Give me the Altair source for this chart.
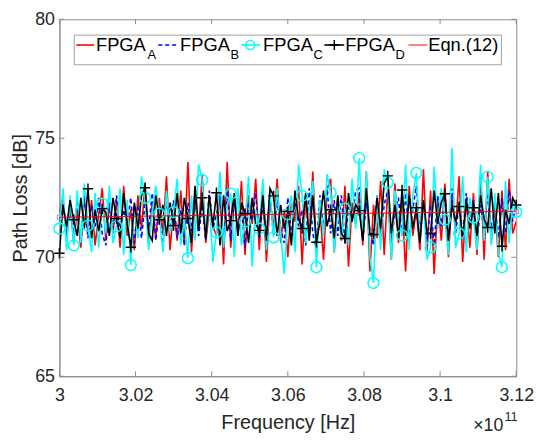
import altair as alt
import numpy as np
import pandas as pd

FONT = "Liberation Sans"

# ---------------- data ----------------
freq = np.linspace(3.0, 3.12, 129)  # frequency grid, x 1e11 Hz

fpga_a = [
    71.9, 72.5, 70.8, 72.3, 70.6, 72.0, 70.4, 72.6, 71.0, 72.4, 70.5, 71.8,
    72.9, 70.7, 72.2, 71.0, 72.4, 70.4, 73.0, 70.9, 72.0, 70.3, 72.6, 71.2,
    73.1, 70.5, 72.3, 70.8, 72.5, 71.0, 73.4, 70.3, 72.1, 70.7, 72.8, 70.5,
    74.0, 70.2, 72.4, 71.1, 73.5, 70.6, 72.0, 71.3, 70.9, 72.7, 69.7, 74.0,
    70.4, 72.5, 71.0, 73.2, 70.1, 72.6, 71.4, 73.3, 70.3, 72.8, 69.8, 72.4,
    71.2, 73.3, 70.6, 72.0, 70.0, 72.3, 71.5, 73.0, 69.7, 72.6, 70.9, 73.6,
    70.4, 72.0, 69.9, 72.8, 73.3, 70.2, 72.5, 70.7, 73.0, 69.6, 72.3, 71.4,
    72.7, 70.5, 73.6, 69.4, 72.2, 70.8, 73.2, 70.1, 72.9, 69.9, 73.1, 70.6,
    72.4, 69.4, 73.0, 70.9, 72.0, 70.3, 73.7, 70.2, 72.8, 69.3, 72.4, 70.7,
    73.1, 70.0, 72.6, 71.2, 73.4, 69.8, 72.5, 70.4, 72.7, 70.1, 73.5, 69.9,
    73.6, 70.6, 72.2, 70.0, 72.8, 70.3, 73.3, 71.0, 71.5,
]

fpga_b = [
    71.5, 72.3, 70.9, 72.0, 71.0, 72.4, 70.6, 72.6, 70.8, 72.2, 71.3, 72.5,
    71.0, 70.5, 72.3, 71.2, 72.6, 70.9, 72.0, 71.4, 72.5, 70.6, 72.2, 70.8,
    72.3, 71.2, 72.7, 70.7, 72.1, 70.4, 72.5, 71.1, 72.4, 70.8, 72.0, 70.5,
    72.3, 71.1, 72.6, 70.9, 72.2, 70.7, 72.8, 71.2, 71.8, 72.6, 70.6, 72.9,
    70.7, 72.5, 71.0, 72.1, 70.4, 72.3, 71.6, 72.7, 70.8, 72.2, 71.0, 72.6,
    70.9, 72.4, 71.2, 70.6, 72.5, 70.8, 72.3, 71.3, 72.0, 70.5, 72.9, 71.0,
    70.3, 72.6, 71.2, 73.0, 71.0, 72.4, 70.9, 72.6, 70.6, 72.1, 71.5, 72.8,
    72.9, 70.7, 72.3, 71.1, 70.5, 72.6, 71.0, 72.2, 72.8, 70.6, 71.9, 72.5,
    70.9, 72.7, 70.8, 72.0, 73.0, 71.0, 72.4, 70.7, 72.2, 70.5, 72.6, 71.3,
    72.6, 70.8, 72.9, 71.0, 72.3, 70.9, 72.7, 71.4, 72.4, 70.6, 72.2, 71.2,
    72.7, 71.1, 72.3, 70.8, 72.5, 71.0, 72.8, 71.5, 72.3,
]

fpga_c = [
    71.2, 72.9, 70.3, 72.6, 70.5, 72.8, 70.6, 73.1, 71.33, 70.2, 72.7, 70.4,
    72.25, 71.0, 73.0, 70.6, 71.3, 72.9, 70.1, 72.4, 69.67, 72.2, 70.8, 73.4,
    72.5, 70.3, 71.9, 73.0, 71.83, 70.2, 72.8, 71.0, 71.9, 73.3, 70.5, 71.6,
    69.96, 72.6, 70.7, 73.9, 73.25, 70.9, 72.4, 69.8, 71.04, 73.6, 70.4, 72.2,
    72.67, 70.0, 72.9, 70.5, 71.5, 73.4, 69.6, 72.0, 71.2, 73.3, 70.3, 72.8,
    70.83, 72.9, 71.0, 69.3, 71.8, 72.6, 70.2, 73.9, 72.58, 70.6, 72.1, 73.2,
    69.58, 72.4, 70.9, 73.5, 72.71, 70.2, 72.3, 70.8, 72.04, 70.5, 73.3, 71.2,
    74.17, 70.8, 73.6, 70.0, 68.92, 72.6, 70.3, 73.7, 73.13, 69.9, 72.8, 71.6,
    70.92, 73.9, 70.3, 72.6, 73.54, 70.6, 72.4, 69.9, 70.42, 73.8, 71.2, 72.9,
    71.58, 70.1, 74.6, 70.4, 71.0, 73.4, 70.2, 72.5, 71.67, 70.3, 73.9, 70.7,
    73.38, 70.5, 72.7, 70.2, 69.58, 73.2, 70.6, 72.4, 71.9,
]

fpga_d = [
    70.17, 72.2, 71.3, 72.4, 71.58, 70.9, 72.5, 71.2, 72.88, 70.8, 72.0, 71.1,
    72.04, 71.9, 70.9, 72.5, 71.63, 70.8, 72.7, 71.4, 70.42, 72.3, 71.2, 72.6,
    72.92, 71.0, 70.7, 72.6, 71.58, 72.2, 70.9, 72.3, 71.33, 72.7, 71.0, 72.5,
    71.63, 70.6, 73.0, 71.2, 72.5, 70.8, 72.6, 71.3, 72.71, 70.5, 72.6, 71.1,
    71.54, 72.7, 70.9, 72.3, 71.83, 70.6, 72.5, 71.4, 71.13, 72.6, 70.7, 72.9,
    72.58, 70.9, 72.2, 71.2, 71.92, 70.5, 72.8, 71.6, 71.21, 72.7, 70.7, 72.6,
    70.63, 71.5, 72.8, 71.3, 72.0, 70.8, 72.6, 71.0, 70.79, 72.7, 71.5, 72.2,
    71.96, 70.7, 72.9, 71.0, 70.96, 72.5, 71.2, 73.1, 73.42, 71.0, 72.2, 70.8,
    72.83, 70.9, 72.6, 71.2, 72.08, 70.6, 72.4, 71.0, 71.0, 72.8, 71.4, 72.3,
    72.67, 70.7, 72.2, 71.5, 72.13, 70.8, 72.4, 71.2, 72.08, 70.9, 72.6, 71.6,
    71.25, 72.9, 71.0, 72.7, 70.46, 72.0, 71.4, 72.5, 72.2,
]

eqn_freq = [3.0, 3.12]
eqn_vals = [71.68, 71.93]

x_ticks = [3.0, 3.02, 3.04, 3.06, 3.08, 3.1, 3.12]
y_ticks = [65, 70, 75, 80]

# ---------------- layout constants ----------------
W, H = 462, 361
FRAME = "#8c8c8c"
TXT = "#262626"

df = pd.concat([
    pd.DataFrame({"f": freq, "v": fpga_a, "s": "A", "i": range(len(freq))}),
    pd.DataFrame({"f": freq, "v": fpga_b, "s": "B", "i": range(len(freq))}),
    pd.DataFrame({"f": freq, "v": fpga_c, "s": "C", "i": range(len(freq))}),
    pd.DataFrame({"f": freq, "v": fpga_d, "s": "D", "i": range(len(freq))}),
])
eqn_df = pd.DataFrame({"f": eqn_freq, "v": eqn_vals})
xt_df = pd.DataFrame({"f": x_ticks})
yt_df = pd.DataFrame({"v": y_ticks})
one = pd.DataFrame({"k": [0]})

X = alt.X("f:Q", scale=alt.Scale(domain=[3.0, 3.12], nice=False, zero=False),
          axis=alt.Axis(values=x_ticks, format=".2~f", title="Frequency [Hz]",
                        ticks=False, grid=False, labelPadding=11, titlePadding=8))
Y = alt.Y("v:Q", scale=alt.Scale(domain=[65, 80], nice=False, zero=False),
          axis=alt.Axis(values=y_ticks, title="Path Loss [dB]", ticks=False,
                        grid=False, labelPadding=5, titlePadding=4))


def series_line(name, color, dash=None):
    kw = dict(color=color, strokeWidth=1.6, clip=True)
    if dash:
        kw["strokeDash"] = dash
    return alt.Chart(df).transform_filter(alt.datum.s == name).mark_line(**kw).encode(x=X, y=Y)


line_a = series_line("A", "#ff0000")
line_b = series_line("B", "#0000ff", [4, 3])
line_c = series_line("C", "#00ffff")
line_d = series_line("D", "#000000")

PLUS = "M-1,0L1,0M0,-1L0,1"
mk_c = alt.Chart(df).transform_filter((alt.datum.s == "C") & (alt.datum.i % 4 == 0)).mark_point(
    shape="circle", filled=False, color="#00ffff", strokeWidth=1.5, size=120, opacity=1
).encode(x=X, y=Y)
mk_d = alt.Chart(df).transform_filter((alt.datum.s == "D") & (alt.datum.i % 4 == 0)).mark_point(
    shape=PLUS, filled=False, color="#000000", strokeWidth=1.5, size=110, opacity=1
).encode(x=X, y=Y)

eqn = alt.Chart(eqn_df).mark_line(color="#ff0000", strokeWidth=1).encode(x=X, y=Y)
eqn_sq = alt.Chart(eqn_df).mark_point(shape="square", filled=False, color="#7fa6d6",
                                       size=20, strokeWidth=1, opacity=1).encode(x=X, y=Y)

# inward ticks (MATLAB style box)
tk = dict(color=FRAME, strokeWidth=1)
t_bot = alt.Chart(xt_df).mark_rule(**tk).encode(x=X, y=alt.value(H), y2=alt.value(H - 5))
t_top = alt.Chart(xt_df).mark_rule(**tk).encode(x=X, y=alt.value(0), y2=alt.value(5))
t_lft = alt.Chart(yt_df).mark_rule(**tk).encode(y=Y, x=alt.value(0), x2=alt.value(5))
t_rgt = alt.Chart(yt_df).mark_rule(**tk).encode(y=Y, x=alt.value(W), x2=alt.value(W - 5))


def txt(s, x, y, size, align="left", color="#000000"):
    return alt.Chart(one).mark_text(text=s, font=FONT, fontSize=size, align=align,
                                    baseline="alphabetic", color=color).encode(
        x=alt.value(x), y=alt.value(y))


def seg(x1, x2, y, color, dash=None, width=1.6):
    kw = dict(color=color, strokeWidth=width)
    if dash:
        kw["strokeDash"] = dash
    return alt.Chart(one).mark_rule(**kw).encode(x=alt.value(x1), x2=alt.value(x2), y=alt.value(y))


LY, TY, SY = 26, 32.5, 40.3
leg_box = alt.Chart(one).mark_rect(fill="white", stroke="#a0a0a0", strokeWidth=1).encode(
    x=alt.value(15), x2=alt.value(447), y=alt.value(16), y2=alt.value(46))
leg = [
    leg_box,
    seg(17, 35, LY, "#ff0000"), txt("FPGA", 37, TY, 18.5), txt("A", 89, SY, 13),
    seg(100, 120, LY, "#0000ff", [4, 3]), txt("FPGA", 122, TY, 18.5), txt("B", 173, SY, 13),
    seg(184, 203, LY, "#00ffff"),
    alt.Chart(one).mark_point(shape="circle", filled=False, color="#00ffff", strokeWidth=1.5,
                              size=80, opacity=1).encode(x=alt.value(193), y=alt.value(LY)),
    txt("FPGA", 206, TY, 18.5), txt("C", 257, SY, 13),
    seg(268, 288, LY, "#000000"),
    alt.Chart(one).mark_point(shape=PLUS, filled=False, color="#000000", strokeWidth=1.5,
                              size=100, opacity=1).encode(x=alt.value(278), y=alt.value(LY)),
    txt("FPGA", 289, TY, 18.5), txt("D", 340, SY, 13),
    seg(353, 372, LY, "#ff0000", width=1), txt("Eqn.(12)", 373, TY, 18.5),
]

exp_txt = [
    txt("\u00d710", 449, 416, 18, align="right", color=TXT),
    txt("11", 450, 406, 13, color=TXT),
]

chart = alt.layer(
    line_a, line_b, line_c, line_d, mk_c, mk_d, eqn, eqn_sq,
    t_bot, t_top, t_lft, t_rgt, *leg, *exp_txt
).properties(
    width=W, height=H,
    background="white",
    autosize=alt.AutoSizeParams(type="none"),
    padding={"left": 52, "top": 9, "right": 22, "bottom": 58},
).configure_view(
    stroke=FRAME, strokeWidth=1
).configure_axis(
    domainColor=FRAME, domainWidth=1, labelFont=FONT, titleFont=FONT,
    labelFontSize=18, titleFontSize=20, titleFontWeight="normal",
    labelColor=TXT, titleColor=TXT, labelFlush=False, labelOverlap=False
)

chart.save("out.html", embed_options={"renderer": "svg", "actions": False})
